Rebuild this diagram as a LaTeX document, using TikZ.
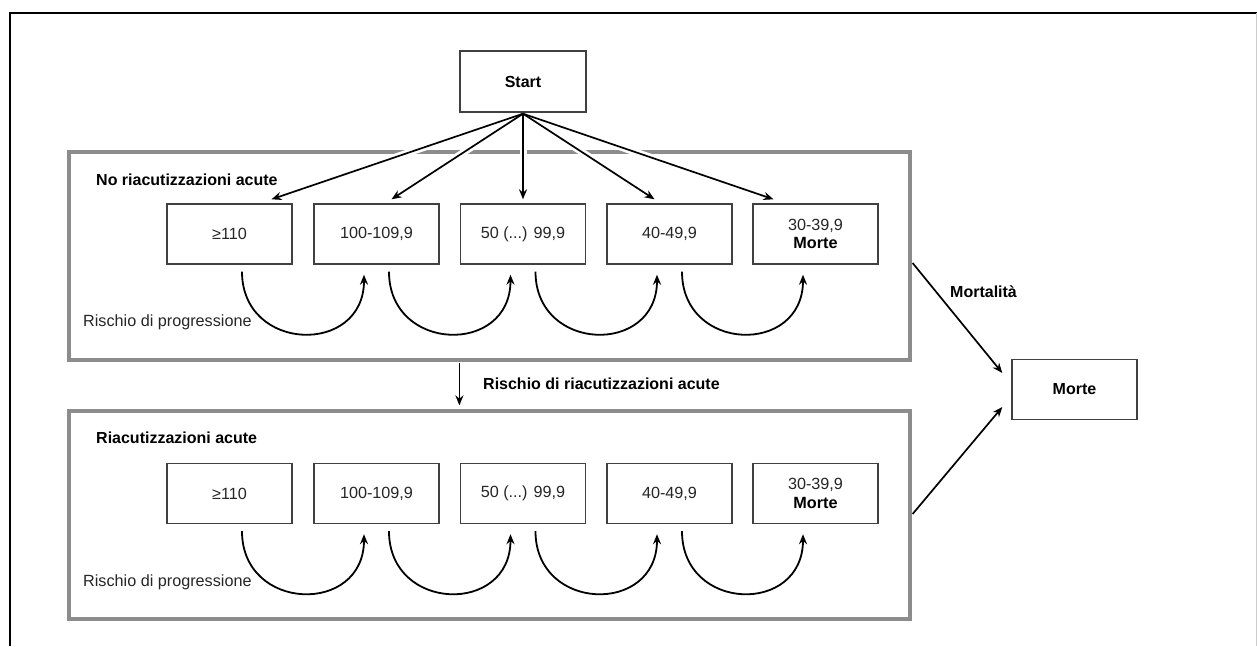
\documentclass[tikz,border=0pt]{standalone}
\usepackage{fontspec}
\setmainfont{Liberation Sans}
\usetikzlibrary{arrows.meta,calc}
\tikzset{
  statebox/.style={draw=black!75, line width=1.4pt, minimum width=125pt, minimum height=60pt, inner sep=0pt, align=center, text=black!85, font=\fontsize{16.2}{18.5}\selectfont},
  groupbox/.style={draw=black!45, line width=3.2pt, inner sep=0pt},
  arr/.style={line width=1.7pt, -{Stealth[length=10pt,width=8pt]}},
  halo/.style={draw=white, line width=7pt, shorten <=14pt, shorten >=16pt},
  curvearr/.style={line width=1.8pt, -{Stealth[length=10pt,width=8pt]}},
  lbl/.style={font=\fontsize{16.2}{18.5}\selectfont, text=black!85, inner sep=0pt},
  blbl/.style={font=\bfseries\fontsize{16}{18.5}\selectfont, inner sep=0pt}
}
\begin{document}
\begin{tikzpicture}[x=1pt,y=-1pt]
\useasboundingbox (0,0) rectangle (1257,646);
\fill[white] (0,0) rectangle (1257,646);
% outer frame
\draw[black, line width=2.8pt] (10,646) -- (10,13) -- (1257,13);
\draw[black!20, line width=1pt] (1256,13) -- (1256,646);

% group boxes
\node[groupbox, minimum width=841pt, minimum height=208pt] (g1) at (489.5,256) {};
\node[groupbox, minimum width=841pt, minimum height=208pt] (g2) at (489.5,515) {};

\node[blbl, anchor=west] (t1) at (96,180) {No riacutizzazioni acute};
\node[blbl, anchor=west] (t2) at (96,438) {Riacutizzazioni acute};

% start
\node[statebox, font=\bfseries\fontsize{16}{18.5}\selectfont, text=black, minimum width=126pt, minimum height=61pt] (start) at (523,81.5) {Start};

% upper row
\node[statebox] (a1) at (229.5,234) {≥110};
\node[statebox] (a2) at (376.5,234) {100-109,9};
\node[statebox] (a3) at (523,234) {50 (...) 99,9};
\node[statebox] (a4) at (669.5,234) {40-49,9};
\node[statebox] (a5) at (815.5,234) {30-39,9\\\textbf{\color{black}Morte}};

% lower row
\node[statebox] (b1) at (229.5,493.5) {≥110};
\node[statebox] (b2) at (376.5,493.5) {100-109,9};
\node[statebox] (b3) at (523,493.5) {50 (...) 99,9};
\node[statebox] (b4) at (669.5,493.5) {40-49,9};
\node[statebox] (b5) at (815.5,493.5) {30-39,9\\\textbf{\color{black}Morte}};

% death
\node[statebox, font=\bfseries\fontsize{16}{18.5}\selectfont, text=black] (morte) at (1074.5,389.5) {Morte};

% arrows from start
\coordinate (s0) at ($(start.south)+(0,1)$);
\coordinate (e1) at ($(a1.north)+(42,-4)$);
\coordinate (e2) at ($(a2.north)+(15,-4)$);
\coordinate (e3) at ($(a3.north)+(0,-4)$);
\coordinate (e4) at ($(a4.north)+(-15,-4)$);
\coordinate (e5) at ($(a5.north)+(-42,-4)$);
\foreach \e in {e1,e2,e3,e4,e5}{
  \draw[halo] (s0) -- (\e);
}
\foreach \e in {e1,e2,e3,e4,e5}{
  \draw[arr] (s0) -- (\e);
}

% progression curves
\foreach \r in {a,b}{
  \draw[curvearr] ($(\r1.south)+(12.5,7)$) .. controls +(0,81) and +(0,81) .. ($(\r2.south)+(-12.5,10)$);
  \draw[curvearr] ($(\r2.south)+(12.5,7)$) .. controls +(0,81) and +(0,81) .. ($(\r3.south)+(-12.5,10)$);
  \draw[curvearr] ($(\r3.south)+(12.5,7)$) .. controls +(0,81) and +(0,81) .. ($(\r4.south)+(-12.5,10)$);
  \draw[curvearr] ($(\r4.south)+(12.5,7)$) .. controls +(0,81) and +(0,81) .. ($(\r5.south)+(-12.5,10)$);
}
\node[lbl, anchor=west] (p1) at (83,322) {Rischio di progressione};
\node[lbl, anchor=west] (p2) at (83,582) {Rischio di progressione};

% between groups
\coordinate (v1) at ($(g1.south west)+(392,1.5)$);
\coordinate (v2) at ($(g2.north west)+(392,-4)$);
\draw[arr] (v1) -- (v2);
\node[blbl, anchor=west] (rr) at (483,384) {Rischio di riacutizzazioni acute};

% mortality
\coordinate (m1) at ($(g1.east)+(1,7)$);
\coordinate (m2) at ($(morte.west)+(-9,-16.5)$);
\draw[arr] (m1) -- (m2);
\node[blbl, anchor=west] (ml) at (950,292) {Mortalità};
\coordinate (m3) at ($(g2.east)+(1,-1)$);
\coordinate (m4) at ($(morte.west)+(-9,17.5)$);
\draw[arr] (m3) -- (m4);
\end{tikzpicture}
\end{document}
